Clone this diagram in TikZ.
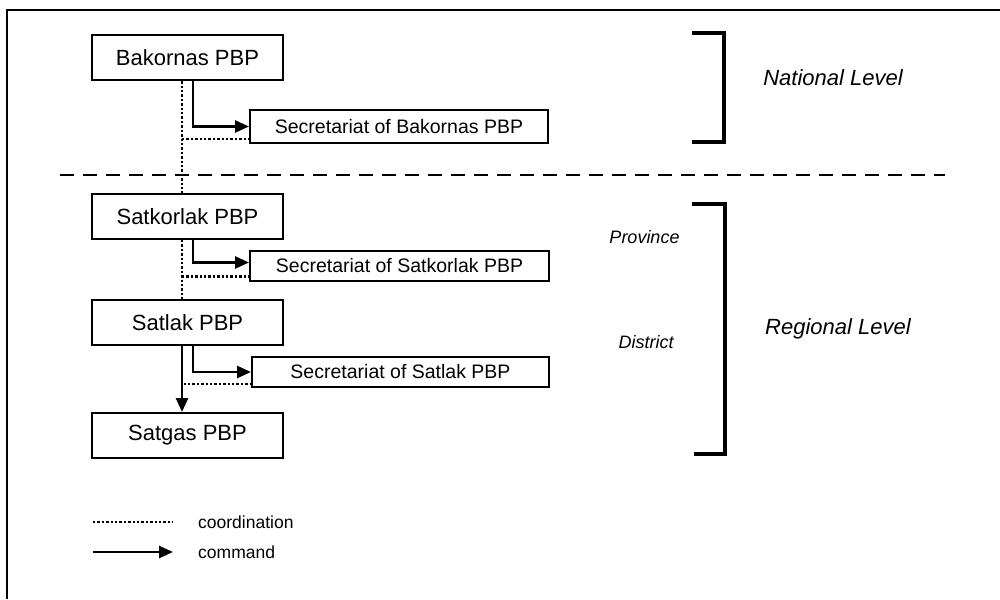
\documentclass[tikz,border=0pt]{standalone}
\usepackage{fontspec}
\setmainfont{Liberation Sans}
\usetikzlibrary{arrows.meta}

\tikzset{
  bigbox/.style={draw, line width=2pt, minimum width=191pt, minimum height=45pt, inner sep=0pt, font=\fontsize{22}{26}\selectfont},
  secbox/.style={draw, line width=2pt, minimum width=298pt, minimum height=30pt, inner sep=0pt, font=\fontsize{19.5}{23}\selectfont},
  coordline/.style={line width=2.4pt, dash pattern=on 2.4pt off 2pt},
  cmdline/.style={line width=2.6pt, -{Triangle[length=14pt,width=12pt]}},
  bracket/.style={line width=3.5pt},
  leveltext/.style={font=\fontsize{22}{26}\selectfont\itshape, inner sep=0pt},
  subtext/.style={font=\fontsize{18}{22}\selectfont\itshape, inner sep=0pt},
  legtext/.style={font=\fontsize{17.5}{20}\selectfont, inner sep=0pt, anchor=west}
}

\begin{document}
\begin{tikzpicture}[x=1pt, y=-1pt]
		\useasboundingbox (0,0) rectangle (1000,599);
		% Frame and level separator:
		\draw[line width=2.5pt] (7,599) -- (7,10) -- (1000,10);
		\draw[line width=2.5pt, dash pattern=on 14pt off 9pt] (60,175) -- (945,175);
		% Boxes:
		\node[bigbox, line width=2.6pt] (bak) at (187.5, 57.5){Bakornas PBP};
		\node[secbox, minimum height=33pt] (sbak) at (399, 126.5){Secretariat of Bakornas PBP};
		\node[bigbox] (satk) at (187.5, 216.5){Satkorlak PBP};
		\node[secbox, minimum width=299pt] (ssatk) at (399.5, 265.5){Secretariat of Satkorlak PBP};
		\node[bigbox] (satl) at (187.5, 322.5){Satlak PBP};
		\node[secbox, minimum width=297pt] (ssatl) at (400.5, 372){Secretariat of Satlak PBP};
		\node[bigbox] (satg) at (187.5, 435.5){Satgas PBP};
		\coordinate (dcol) at (182, 0);
		\coordinate (ccol) at (193, 0);
		% Coordination:
		\draw[coordline] (bak.south -| dcol) -- (satk.north -| dcol);
		\draw[coordline] (satk.south -| dcol) -- (satl.north -| dcol);
		\draw[coordline] ([yshift=5pt]sbak.south west -| dcol) -- ([yshift=5pt]sbak.south west);
		\draw[coordline] ([yshift=5pt]ssatk.south west -| dcol) -- ([yshift=5pt]ssatk.south west);
		\draw[coordline] (satl.south -| dcol) |- ([yshift=4pt]ssatl.south west);
		% Command:
		\draw[cmdline] (bak.south -| ccol) |- (sbak.west);
		\draw[cmdline] (satk.south -| ccol) |- ([yshift=3pt]ssatk.west);
		\draw[cmdline] (satl.south -| ccol) |- (ssatl.west);
		\draw[cmdline] (satl.south -| dcol) -- (satg.north -| dcol);
		% Levels:
		\draw[bracket] (692,33) -- (724,33) -- (724,142) -- (692,142);
		\draw[bracket] (692,204) -- (725,204) -- (725,454) -- (694,454);
		\node[leveltext] (natl) at (833, 78){National Level};
		\node[leveltext] (regl) at (838, 329){Regional Level};
		\node[subtext] (prov) at (644.5, 237){Province};
		\node[subtext] (dist) at (646, 342){District};
		% Legend:
		\coordinate (lgc1) at (93, 522);
		\coordinate (lgc2) at (173, 522);
		\coordinate (lgm1) at (93, 552);
		\coordinate (lgm2) at (173, 552);
		\draw[coordline] (lgc1) -- (lgc2);
		\draw[cmdline] (lgm1) -- (lgm2);
		\node[legtext] (lgct) at (198, 522){coordination};
		\node[legtext] (lgmt) at (198, 552){command};
	\end{tikzpicture}
\end{document}
